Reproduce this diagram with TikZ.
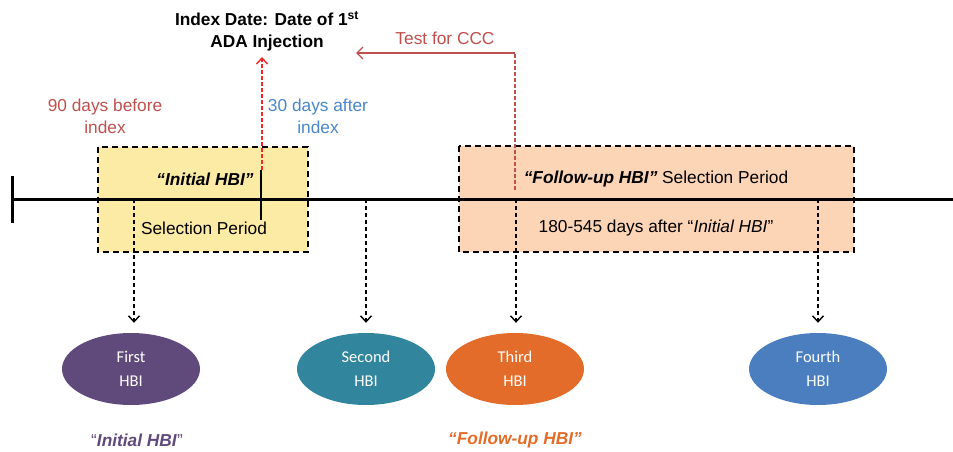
\documentclass[tikz,border=0pt]{standalone}
\usepackage{fontspec}
\setmainfont{Liberation Sans}
\newfontfamily\hbifont{Carlito}
\usepackage{xcolor}
\usetikzlibrary{shapes.geometric, arrows.meta, positioning}
\definecolor{boxyellow}{HTML}{FBEBA5}
\definecolor{boxorange}{HTML}{FBD5B5}
\definecolor{txtred}{HTML}{C0504D}
\definecolor{idxred}{HTML}{F02828}
\definecolor{txtblue}{HTML}{4A86C8}
\definecolor{hbipurple}{HTML}{604A7B}
\definecolor{hbiteal}{HTML}{31859C}
\definecolor{hbiorange}{HTML}{E46C2A}
\definecolor{hbiblue}{HTML}{4A7EBE}
\tikzset{
  selbox/.style={draw=black, line width=1.8pt, dash pattern=on 6pt off 4pt},
  hbi/.style={ellipse, minimum width=138pt, minimum height=72pt, inner sep=0pt,
    text=white, align=center, font=\hbifont\fontsize{16.5}{24}\selectfont},
  droparrow/.style={-{Straight Barb[length=6pt,width=11pt]}, line width=1.4pt,
    dash pattern=on 4pt off 3pt, shorten >=10pt},
  lbl/.style={font=\fontsize{17.3}{22}\selectfont, align=center, inner sep=0pt}
}

\begin{document}
\begin{tikzpicture}[x=1pt, y=-1pt]
        \useasboundingbox (0,0) rectangle (953,452);
        % Selection periods
        \draw[selbox, fill=boxyellow] (98,147) rectangle (308,252);
        \draw[selbox, fill=boxorange] (459,146) rectangle (854,252);
        % Timeline
        \draw[line width=3pt] (12,199) -- (953,199);
        \draw[line width=3pt] (12,176) -- (12,223);
        \draw[line width=1.8pt] (261,170) -- (261,220);
        % Texts in the boxes
        \node[lbl, font=\fontsize{17.3}{22}\selectfont\bfseries\itshape] (initsel) at (205,179) {“Initial HBI”};
        \node[lbl] (initper) at (204,228) {Selection Period};
        \node[lbl] (fupsel) at (656,179) {\textbf{\textit{“Follow-up HBI”}} Selection Period};
        \node[lbl] (fupper) at (656,228) {180-545 days after “\textit{Initial HBI}”};
        % Labels above
        \node[lbl, font=\fontsize{17.3}{22}\selectfont\bfseries] (indexdate) at (267,31) {Index Date: Date of 1\textsuperscript{st}\\ADA Injection};
        \node[lbl, text=txtred] (before) at (105,116) {90 days before\\index};
        \node[lbl, text=txtblue] (after) at (318,116) {30 days after\\index};
        \node[lbl, text=txtred] (ccc) at (445,38) {Test for CCC};
        % Index and CCC arrows
        \coordinate (idxfoot) at (262,170);
        \coordinate (idxtip) at (262,57);
        \coordinate (cccfoot) at (515,190);
        \coordinate (ccccorner) at (515,53);
        \coordinate (ccctip) at (356,53);
        \draw[idxred, line width=1.4pt, dash pattern=on 4pt off 2pt, -{Straight Barb[length=6pt,width=11pt]}] (idxfoot) -- (idxtip);
        \draw[txtred, line width=1.3pt, dash pattern=on 4pt off 2pt] (cccfoot) -- (ccccorner);
        \draw[txtred, line width=1.3pt, -{Straight Barb[length=6pt,width=12pt]}] (ccccorner) -- (ccctip);
        % HBI events
        \node[hbi, fill=hbipurple] (first) at (131,369) {First\\HBI};
        \node[hbi, fill=hbiteal] (second) at (366,369) {Second\\HBI};
        \node[hbi, fill=hbiorange] (third) at (515,369) {Third\\HBI};
        \node[hbi, fill=hbiblue] (fourth) at (818,369) {Fourth\\HBI};
        \coordinate (tfirst) at (134,199);
        \coordinate (tsecond) at (366,199);
        \coordinate (tthird) at (516,199);
        \coordinate (tfourth) at (818,199);
        \draw[droparrow] (tfirst) -- (tfirst |- first.north);
        \draw[droparrow] (tsecond) -- (second.north);
        \draw[droparrow] (tthird) -- (tthird |- third.north);
        \draw[droparrow] (tfourth) -- (fourth.north);
        % Labels below
        \node[lbl, text=hbipurple] (initlbl) at (137,440) {“\textbf{\textit{Initial HBI}}”};
        \node[lbl, text=hbiorange, font=\fontsize{17.3}{22}\selectfont\bfseries\itshape] (fuplbl) at (515,440) {“Follow-up HBI”};
\end{tikzpicture}
\end{document}
